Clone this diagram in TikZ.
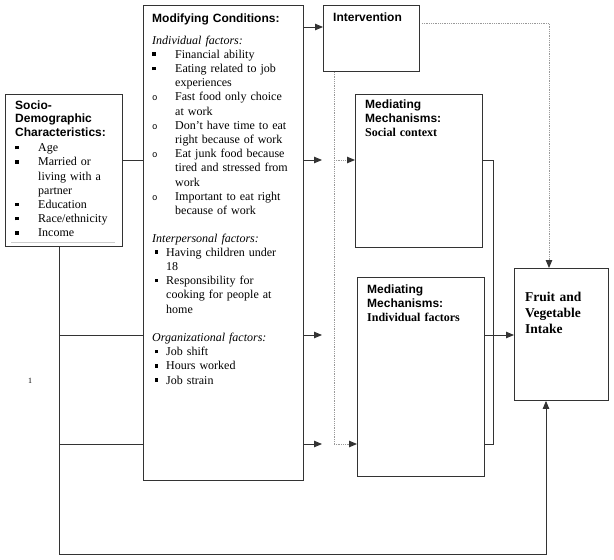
\documentclass[tikz,border=0pt]{standalone}
\usepackage{fontspec}
\setmainfont{Liberation Serif}
\newfontfamily\arialfont{Liberation Sans}
\newfontfamily\courfont{Liberation Mono}
\usetikzlibrary{arrows.meta,positioning}

\definecolor{linec}{HTML}{333333}
\definecolor{dotc}{HTML}{999999}

\newcommand{\sqb}{\rule[2.4pt]{3.4pt}{3.4pt}}
\newcommand{\ocb}{{\courfont\fontsize{9}{9}\selectfont o}}
\newcommand{\itmark}[2][23pt]{\makebox[#1][l]{#2}}
\newcommand{\itgap}[1][23pt]{\hspace*{#1}}

\begin{document}
\begin{tikzpicture}[x=1pt,y=-1pt,
  box/.style={draw=linec,line width=0.9pt,inner sep=0pt,anchor=north west},
  txt/.style={anchor=base west,inner sep=0pt,text width=#1,align=left},
  hd/.style={font=\arialfont\bfseries\fontsize{12}{13.8}\selectfont},
  body/.style={font=\fontsize{12}{14.2}\selectfont},
  link/.style={draw=linec,line width=0.85pt},
  arr/.style={link,-{Triangle[length=8pt,width=6.5pt]}},
  dot/.style={draw=dotc,line width=0.9pt,dash pattern=on 0.9pt off 0.9pt},
  darr/.style={dot,-{Triangle[length=8pt,width=6.5pt,color=linec]}}]
  \useasboundingbox (0,0) rectangle (614,560);

  % boxes
  \node[box,minimum width=117pt,minimum height=152pt] (soc) at (5,94) {};
  \node[box,minimum width=160pt,minimum height=475pt] (mod) at (143,5) {};
  \node[box,minimum width=96pt,minimum height=66pt] (int) at (323,5) {};
  \node[box,minimum width=127pt,minimum height=153pt] (msoc) at (355,94) {};
  \node[box,minimum width=127pt,minimum height=199pt] (mind) at (357,277) {};
  \node[box,minimum width=94pt,minimum height=132pt] (fv) at (514,268) {};

  % socio-demographic text
  \node[hd,txt=105pt] (socHead) at (15,109) {Socio-\\Demographic\\Characteristics:};
  \node[body,txt=105pt] (socList) at (15,151.7) {%
    \itmark{\sqb}Age\\
    \itmark{\sqb}Married or\\
    \itgap living with a\\
    \itgap partner\\
    \itmark{\sqb}Education\\
    \itmark{\sqb}Race/ethnicity\\
    \itmark{\sqb}Income};
  \draw[gray!40,line width=0.6pt] (11,242.7) -- (115,242.7);

  % modifying conditions text
  \node[hd,txt=150pt] (modHead) at (152,22.7) {Modifying Conditions:};
  \node[body,txt=150pt] (modInd) at (152,44) {%
    \textit{Individual factors:}\\
    \itmark{\sqb}Financial ability\\
    \itmark{\sqb}Eating related to job\\
    \itgap experiences\\
    \itmark{\ocb}Fast food only choice\\
    \itgap at work\\
    \itmark{\ocb}Don’t have time to eat\\
    \itgap right because of work\\
    \itmark{\ocb}Eat junk food because\\
    \itgap tired and stressed from\\
    \itgap work\\
    \itmark{\ocb}Important to eat right\\
    \itgap because of work};
  \node[body,txt=150pt] (modInt) at (152,242) {%
    \textit{Interpersonal factors:}\\
    \itmark[14pt]{\hspace*{2.5pt}\sqb}Having children under\\
    \itgap[14pt]18\\
    \itmark[14pt]{\hspace*{2.5pt}\sqb}Responsibility for\\
    \itgap[14pt]cooking for people at\\
    \itgap[14pt]home};
  \node[body,txt=150pt] (modOrg) at (152,341.5) {%
    \textit{Organizational factors:}\\
    \itmark[14pt]{\hspace*{2.5pt}\sqb}Job shift\\
    \itmark[14pt]{\hspace*{2.5pt}\sqb}Hours worked\\
    \itmark[14pt]{\hspace*{2.5pt}\sqb}Job strain};

  % other box texts
  \node[hd,txt=85pt] (intT) at (333,21.7) {Intervention};
  \node[body,txt=115pt] (msocT) at (365,108.3) {%
    {\arialfont\bfseries Mediating\\Mechanisms:}\\\textbf{Social context}};
  \node[body,txt=115pt] (mindT) at (367,293.3) {%
    {\arialfont\bfseries Mediating\\Mechanisms:}\\\textbf{Individual factors}};
  \node[txt=80pt,font=\bfseries\fontsize{13.5}{16}\selectfont] (fvT) at (525,301.7)
    {Fruit and\\Vegetable\\Intake};
  \node[anchor=base,inner sep=0pt,font=\fontsize{8}{8}\selectfont] (pgno) at (30,383) {1};

  % rows and columns of the connectors
  \coordinate (rI) at (0,23);
  \coordinate (r1) at (0,27);
  \coordinate (r2) at (0,160);
  \coordinate (r3) at (0,335);
  \coordinate (r4) at (0,444);
  \coordinate (rL) at (0,554);
  \coordinate (cS) at (59,0);
  \coordinate (cA) at (322,0);
  \coordinate (cD) at (334,0);
  \coordinate (cB) at (493,0);
  \coordinate (cF) at (549,0);
  \coordinate (cG) at (546,0);

  % solid connectors
  \draw[link] (soc.east |- r2) -- (mod.west |- r2);
  \draw[arr] (soc.south -| cS) -- (cS |- rL) -- (cG |- rL) -- (fv.south -| cG);
  \draw[link] (cS |- r3) -- (mod.west |- r3);
  \draw[link] (cS |- r4) -- (mod.west |- r4);
  \draw[arr] (mod.east |- r1) -- (int.west |- r1);
  \foreach \r in {r2,r3,r4}
    \draw[arr] (mod.east |- \r) -- (cA |- \r);
  \draw[link] (msoc.east |- r2) -- (cB |- r2) -- (cB |- r4) -- (mind.east |- r4);
  \draw[arr] (mind.east |- r3) -- (fv.west |- r3);

  % dotted connectors
  \draw[darr] ([xshift=2pt]int.east |- rI) -- (cF |- rI) -- (fv.north -| cF);
  \draw[dot] (int.south -| cD) -- (cD |- r4);
  \draw[darr] (cD |- r2) -- (msoc.west |- r2);
  \draw[darr] (cD |- r4) -- (mind.west |- r4);
\end{tikzpicture}
\end{document}
